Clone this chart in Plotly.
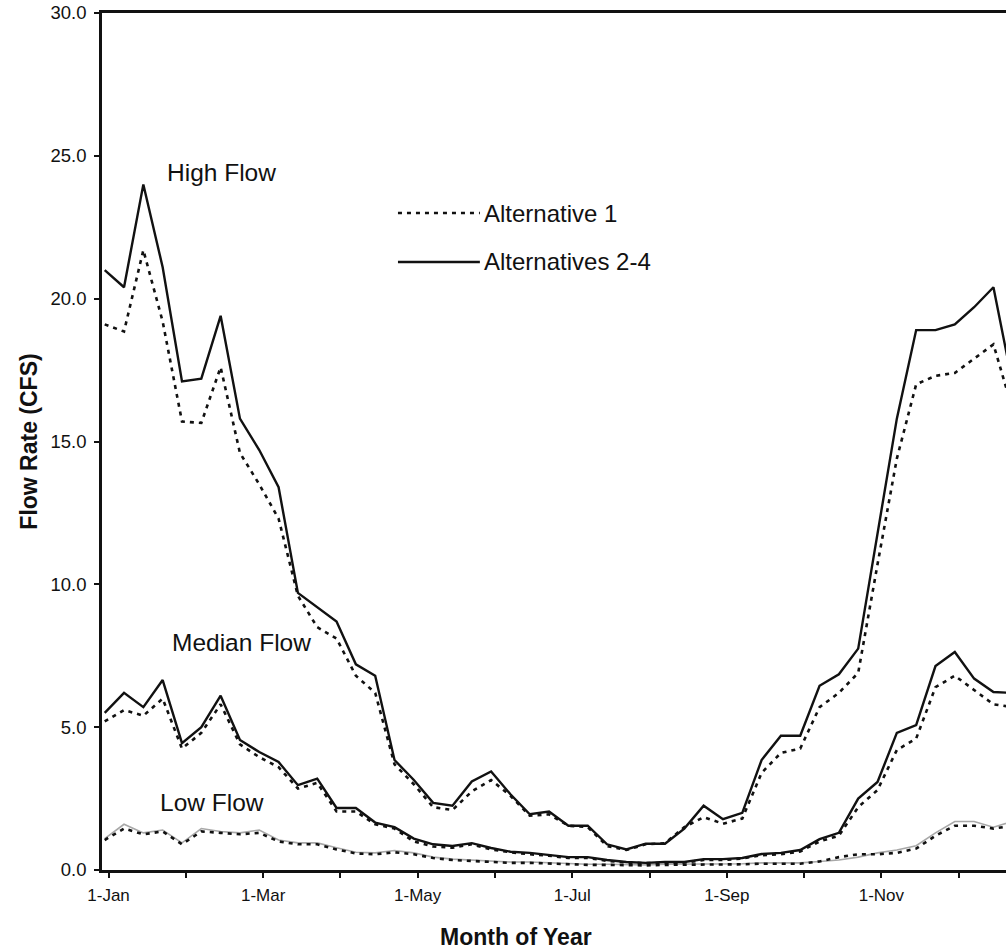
import plotly.graph_objects as go

# quarter-month sample index (4 samples per month, starting 1-Jan)
idx = list(range(48))

high_alt24 = [21.0, 20.4, 24.0, 21.1, 17.1, 17.2, 19.4, 15.8, 14.7, 13.4, 9.7, 9.2,
              8.7, 7.2, 6.8, 3.85, 3.15, 2.35, 2.25, 3.1, 3.45, 2.65, 1.95, 2.05,
              1.55, 1.55, 0.9, 0.72, 0.92, 0.92, 1.45, 2.25, 1.78, 2.0, 3.85, 4.7,
              4.7, 6.45, 6.85, 7.75, 11.7, 15.8, 18.9, 18.9, 19.1, 19.7, 20.4, 17.0]
high_alt1 = [19.1, 18.85, 21.7, 19.2, 15.7, 15.65, 17.6, 14.6, 13.5, 12.3, 9.6, 8.5,
             8.1, 6.8, 6.2, 3.7, 3.0, 2.2, 2.1, 2.75, 3.15, 2.6, 1.9, 1.95,
             1.55, 1.5, 0.84, 0.7, 0.9, 0.94, 1.5, 1.85, 1.62, 1.8, 3.4, 4.1,
             4.25, 5.7, 6.2, 6.9, 10.7, 14.4, 17.0, 17.3, 17.4, 17.9, 18.4, 16.1]
median_alt24 = [5.5, 6.2, 5.7, 6.65, 4.44, 5.0, 6.1, 4.55, 4.13, 3.78, 2.97, 3.2,
                2.17, 2.17, 1.66, 1.5, 1.1, 0.9, 0.84, 0.94, 0.77, 0.64, 0.6, 0.52,
                0.45, 0.45, 0.35, 0.28, 0.25, 0.28, 0.28, 0.38, 0.38, 0.42, 0.56, 0.6,
                0.7, 1.08, 1.3, 2.5, 3.08, 4.8, 5.07, 7.14, 7.63, 6.7, 6.23, 6.2]
median_alt1 = [5.2, 5.6, 5.4, 6.0, 4.25, 4.8, 5.8, 4.4, 3.95, 3.6, 2.85, 3.05,
               2.05, 2.05, 1.6, 1.45, 1.0, 0.82, 0.78, 0.9, 0.72, 0.62, 0.55, 0.5,
               0.42, 0.42, 0.32, 0.26, 0.24, 0.26, 0.26, 0.35, 0.35, 0.4, 0.52, 0.55,
               0.65, 1.0, 1.2, 2.2, 2.8, 4.2, 4.6, 6.4, 6.8, 6.3, 5.8, 5.7]
low_alt24 = [1.1, 1.6, 1.3, 1.4, 0.95, 1.45, 1.35, 1.3, 1.4, 1.05, 0.95, 0.95,
             0.78, 0.62, 0.6, 0.68, 0.6, 0.45, 0.38, 0.35, 0.3, 0.28, 0.28, 0.25,
             0.22, 0.2, 0.2, 0.18, 0.18, 0.2, 0.2, 0.22, 0.22, 0.22, 0.25, 0.25,
             0.25, 0.3, 0.35, 0.45, 0.6, 0.7, 0.85, 1.3, 1.7, 1.7, 1.5, 1.7]
low_alt1 = [1.05, 1.45, 1.25, 1.35, 0.9, 1.35, 1.3, 1.25, 1.3, 1.0, 0.9, 0.9,
            0.72, 0.58, 0.55, 0.62, 0.55, 0.42, 0.35, 0.32, 0.28, 0.25, 0.25, 0.22,
            0.2, 0.18, 0.18, 0.16, 0.16, 0.18, 0.18, 0.2, 0.2, 0.2, 0.22, 0.22,
            0.22, 0.3, 0.45, 0.55, 0.55, 0.6, 0.75, 1.2, 1.55, 1.55, 1.45, 1.55]

month_ticks = [0.2 + 4 * m for m in range(12)]
month_labels = ["1-Jan", "", "1-Mar", "", "1-May", "", "1-Jul", "", "1-Sep", "", "1-Nov", ""]
y_ticks = [0, 5, 10, 15, 20, 25, 30]
series_names = ["Alternative 1", "Alternatives 2-4"]
flow_labels = ["High Flow", "Median Flow", "Low Flow"]
x_title = "Month of Year"
y_title = "Flow Rate (CFS)"

DASH = "4px,5px"
FONT = "Liberation Sans, Arial, sans-serif"
INK = "#111"

fig = go.Figure()
# Low flow
fig.add_trace(go.Scatter(x=idx, y=low_alt24, mode="lines", showlegend=False,
                         line=dict(color="#a8a8a8", width=1.6)))
fig.add_trace(go.Scatter(x=idx, y=low_alt1, mode="lines", showlegend=False,
                         line=dict(color=INK, width=2.6, dash=DASH)))
# Median flow
fig.add_trace(go.Scatter(x=idx, y=median_alt1, mode="lines", showlegend=False,
                         line=dict(color=INK, width=2.6, dash=DASH)))
fig.add_trace(go.Scatter(x=idx, y=median_alt24, mode="lines", showlegend=False,
                         line=dict(color=INK, width=2.4)))
# High flow
fig.add_trace(go.Scatter(x=idx, y=high_alt1, mode="lines", name=series_names[0],
                         showlegend=False, line=dict(color=INK, width=2.6, dash=DASH)))
fig.add_trace(go.Scatter(x=idx, y=high_alt24, mode="lines", name=series_names[1],
                         showlegend=False, line=dict(color=INK, width=2.4)))

# flow-level labels
label_pos = [(6.02, 24.4), (7.08, 7.95), (5.53, 2.35)]
for text, (ax, ay) in zip(flow_labels, label_pos):
    fig.add_annotation(x=ax, y=ay, xref="x", yref="y", text=text, showarrow=False,
                       font=dict(family=FONT, size=24.5, color=INK))

# legend (long line swatches as in the original)
leg_rows = [(0.7666, DASH, 2.6), (0.7095, "solid", 2.4)]
for name, (ly, dash, w) in zip(series_names, leg_rows):
    fig.add_shape(type="line", xref="paper", yref="paper", x0=0.3274, x1=0.4180,
                  y0=ly, y1=ly, line=dict(color=INK, width=w, dash=dash))
    fig.add_annotation(x=0.4204, y=ly, xref="paper", yref="paper", text=name,
                       showarrow=False, xanchor="left", yanchor="middle",
                       font=dict(family=FONT, size=24, color=INK))

# x-axis title
fig.add_annotation(x=0.458, y=-0.078, xref="paper", yref="paper",
                   text="<b>" + x_title + "</b>", showarrow=False,
                   xanchor="center", yanchor="middle",
                   font=dict(family=FONT, size=23, color=INK))

fig.update_layout(
    width=1006, height=952,
    margin=dict(l=102, r=0, t=13, b=82),
    paper_bgcolor="white", plot_bgcolor="white",
    font=dict(family=FONT, color=INK),
    showlegend=False,
    xaxis=dict(range=[-0.14, 46.65], tickmode="array", tickvals=month_ticks,
               ticktext=month_labels, ticks="outside", ticklen=5, tickwidth=1.5,
               tickcolor=INK, showline=True, linecolor=INK, linewidth=2.5,
               mirror=True, showgrid=False, zeroline=False, ticklabelstandoff=3,
               tickfont=dict(family=FONT, size=17, color=INK)),
    yaxis=dict(range=[0, 30], tickmode="array", tickvals=y_ticks, tickformat=".1f",
               ticks="outside", ticklen=5, tickwidth=1.5, tickcolor=INK,
               showline=True, linecolor=INK, linewidth=2.5, showgrid=False,
               zeroline=False, ticklabelstandoff=4,
               tickfont=dict(family=FONT, size=18.5, color=INK),
               title=dict(text="<b>" + y_title + "</b>", standoff=7,
                          font=dict(family=FONT, size=23, color=INK))),
)

fig.write_html("out.html", config={"displayModeBar": False},
               post_script="document.body.style.margin='0px';")
